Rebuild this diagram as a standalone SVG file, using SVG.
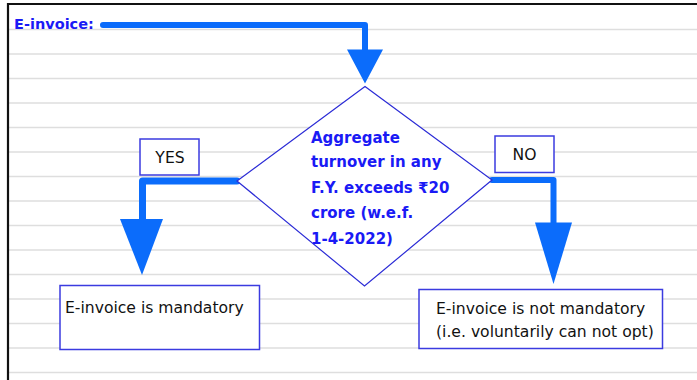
<svg xmlns="http://www.w3.org/2000/svg" width="697" height="380" viewBox="0 0 697 380">
<style>
.rule{stroke:#dedede;stroke-width:1.3}
.frame{stroke:#111;stroke-width:2.2;fill:none}
.conn{fill:none;stroke:#0b6cfb;stroke-width:6;stroke-linejoin:round;stroke-linecap:round}
.head{fill:#0b6cfb}
.box{fill:#fff;stroke:#3b3be0;stroke-width:1.5}
.dia{fill:#fff;stroke:#2b2bd6;stroke-width:1.2}
.t{font-family:"DejaVu Sans","Noto Sans",sans-serif;font-size:15.6px;fill:#111}
.b{font-family:"DejaVu Sans","Noto Sans",sans-serif;font-weight:bold;fill:#1a1af5}
</style>
<rect width="697" height="380" fill="#fff"/>
<g id="rules">
<line class="rule" x1="8" y1="29.5" x2="697" y2="29.5"/>
<line class="rule" x1="8" y1="54" x2="697" y2="54"/>
<line class="rule" x1="8" y1="78.5" x2="697" y2="78.5"/>
<line class="rule" x1="8" y1="103" x2="697" y2="103"/>
<line class="rule" x1="8" y1="127.5" x2="697" y2="127.5"/>
<line class="rule" x1="8" y1="152" x2="697" y2="152"/>
<line class="rule" x1="8" y1="176.5" x2="697" y2="176.5"/>
<line class="rule" x1="8" y1="201" x2="697" y2="201"/>
<line class="rule" x1="8" y1="225.5" x2="697" y2="225.5"/>
<line class="rule" x1="8" y1="250" x2="697" y2="250"/>
<line class="rule" x1="8" y1="274.5" x2="697" y2="274.5"/>
<line class="rule" x1="8" y1="299" x2="697" y2="299"/>
<line class="rule" x1="8" y1="323.5" x2="697" y2="323.5"/>
<line class="rule" x1="8" y1="348" x2="697" y2="348"/>
<line class="rule" x1="8" y1="372.5" x2="697" y2="372.5"/>
</g>
<path class="frame" d="M697 4 H8 V380"/>
<g id="title">
<text class="b" x="14" y="29" font-size="14.5">E-invoice:</text>
</g>
<g id="connectors">
<path class="conn" d="M103 25 H365 V52"/>
<polygon class="head" points="347,49.5 383,49.5 365,83.5"/>
<path class="conn" d="M237 181 H142.5 V222" style="stroke-width:7"/>
<polygon class="head" points="120,219 163,219 142,275"/>
<path class="conn" d="M492 180 H553.5 V225"/>
<polygon class="head" points="535,222.5 572,222.5 553.5,284"/>
</g>
<g id="decision">
<polygon class="dia" points="365,86.5 492,180 364.5,286 237,181"/>
<text class="b" font-size="15">
<tspan x="311" y="142.5">Aggregate</tspan>
<tspan x="311" y="167">turnover in any</tspan>
<tspan x="311" y="192.5">F.Y. exceeds ₹20</tspan>
<tspan x="311" y="218">crore (w.e.f.</tspan>
<tspan x="311" y="243.5">1-4-2022)</tspan>
</text>
</g>
<g id="yes">
<rect class="box" x="140" y="139" width="59" height="36"/>
<text class="t" x="170" y="163" text-anchor="middle">YES</text>
</g>
<g id="no">
<rect class="box" x="495" y="136" width="59" height="36.5"/>
<text class="t" x="524.5" y="160" text-anchor="middle">NO</text>
</g>
<g id="mandatory">
<rect class="box" x="60" y="285.5" width="199.5" height="64"/>
<text class="t" x="65" y="312.5">E-invoice is mandatory</text>
</g>
<g id="not-mandatory">
<rect class="box" x="419" y="289.5" width="243.5" height="59"/>
<text class="t"><tspan x="436" y="313.5">E-invoice is not mandatory</tspan><tspan x="436" y="337">(i.e. voluntarily can not opt)</tspan></text>
</g>
</svg>
